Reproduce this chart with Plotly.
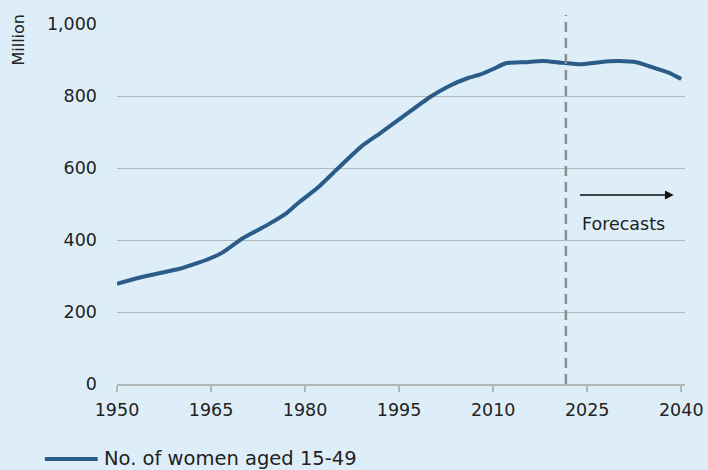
import plotly.graph_objects as go

# Women aged 15-49 worldwide, million
YEARS = [1950, 1953, 1956, 1960, 1963, 1965, 1967, 1970, 1974, 1977, 1979,
         1982, 1985, 1989, 1992, 1995, 2000, 2003, 2006, 2008, 2010, 2012,
         2015, 2018, 2021, 2024, 2027, 2030, 2033, 2035, 2038, 2040]
WOMEN_15_49 = [278, 293, 305, 320, 337, 350, 367, 404, 442, 474, 504,
               545, 595, 660, 697, 735, 798, 828, 850, 860, 875, 891,
               894, 897, 892, 888, 894, 897, 893, 882, 865, 847]
SERIES_NAME = "No. of women aged 15-49"
X_TICKS = [1950, 1965, 1980, 1995, 2010, 2025, 2040]
Y_TICKS = [0, 200, 400, 600, 800, 1000]
Y_TICK_TEXT = ["0", "200", "400", "600", "800", "1,000"]
FORECAST_START = 2021.6

BG = "#deeef8"
LINE = "#2b5b88"
GRID = "#b4b7ba"
TEXT = "#222"
FONT = "DejaVu Sans"

fig = go.Figure()
fig.add_trace(go.Scatter(
    x=YEARS, y=WOMEN_15_49, mode="lines", name=SERIES_NAME, showlegend=False,
    line=dict(color=LINE, width=4, shape="spline", smoothing=0.5),
))

# forecast divider + arrow
fig.add_shape(type="line", xref="x", yref="paper",
              x0=FORECAST_START, x1=FORECAST_START, y0=0, y1=1.025,
              line=dict(color="#8a8c90", width=2.5, dash="10px,6px"))
fig.add_annotation(x=2038.8, y=525, ax=2023.6, ay=525, xref="x", yref="y",
                   axref="x", ayref="y", text="", showarrow=True,
                   arrowhead=2, arrowsize=1.1, arrowwidth=1.6, arrowcolor="#111")
fig.add_annotation(x=2023.9, y=444, xref="x", yref="y", text="Forecasts",
                   showarrow=False, xanchor="left", yanchor="middle",
                   font=dict(family=FONT, size=17.5, color=TEXT))
fig.add_annotation(x=-0.174, y=1.035, xref="paper", yref="paper", text="Million",
                   textangle=-90, showarrow=False, xanchor="center", yanchor="top",
                   font=dict(family=FONT, size=16, color=TEXT))

# legend drawn by hand so it does not push the bottom margin
fig.add_shape(type="line", xref="paper", yref="paper",
              x0=-0.127, x1=-0.034, y0=-0.208, y1=-0.208,
              line=dict(color=LINE, width=4))
fig.add_annotation(x=-0.027, y=-0.208, xref="paper", yref="paper", text=SERIES_NAME,
                   showarrow=False, xanchor="left", yanchor="middle",
                   font=dict(family=FONT, size=19.5, color=TEXT))

fig.update_layout(
    width=708, height=470,
    paper_bgcolor=BG, plot_bgcolor=BG,
    margin=dict(l=117, r=23, t=24, b=86),
    font=dict(family=FONT, size=17.5, color=TEXT),
    showlegend=False,
)
fig.update_xaxes(range=[1950, 2040.6], tickvals=X_TICKS, showgrid=False,
                 showline=True, linecolor=GRID, linewidth=1.5,
                 ticks="outside", ticklen=6, tickcolor=GRID, tickwidth=1.5,
                 ticklabelstandoff=3, zeroline=False, automargin=False)
fig.update_yaxes(range=[0, 1000], tickvals=Y_TICKS, ticktext=Y_TICK_TEXT,
                 showgrid=True, gridcolor=GRID, gridwidth=1.2,
                 zeroline=False, showline=False, ticks="",
                 ticklabelstandoff=19, automargin=False)

fig.write_html(
    "out.html",
    config={"displayModeBar": False},
    post_script="document.body.style.margin='0';",
)
